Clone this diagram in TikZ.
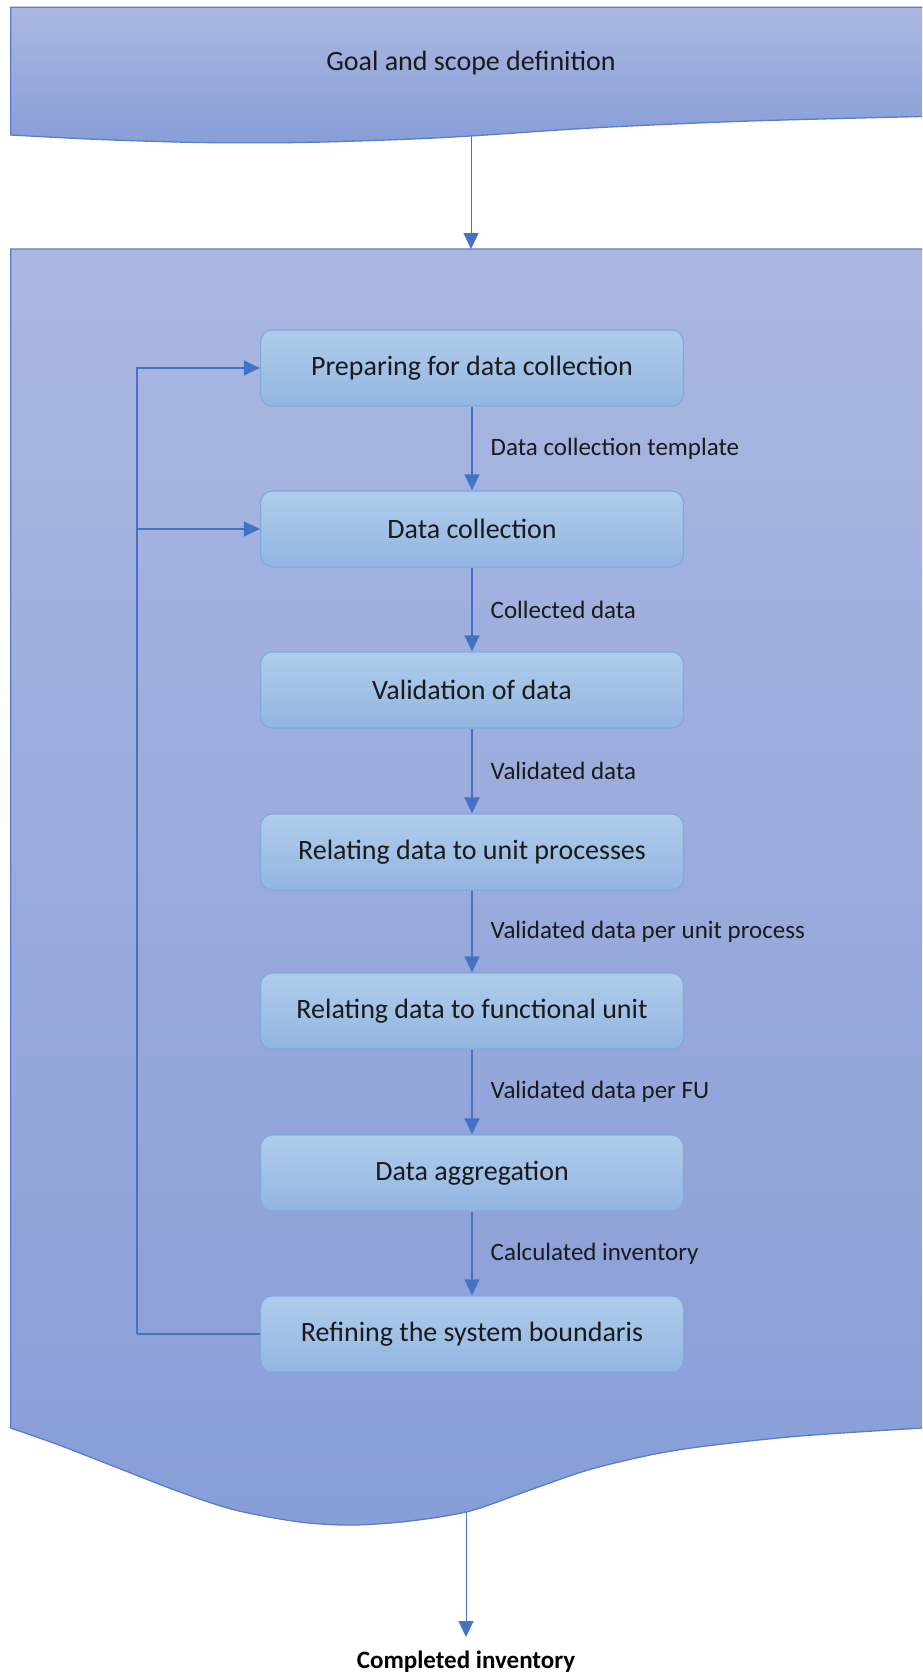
\documentclass[tikz,border=0pt]{standalone}
\usepackage{fontspec}
\setmainfont{Carlito}
\usetikzlibrary{arrows.meta}
\definecolor{bandtop}{HTML}{AAB7E1}
\definecolor{bandbot}{HTML}{889ED8}
\definecolor{bandline}{HTML}{5B7DC6}
\definecolor{boxtop}{HTML}{B0CCEB}
\definecolor{boxbot}{HTML}{92B6E2}
\definecolor{boxline}{HTML}{7DAAE0}
\definecolor{conn}{HTML}{4472C4}
\definecolor{txt}{HTML}{1A1A1A}
\begin{document}
\begin{tikzpicture}[x=1pt,y=-1pt,
  procbox/.style={rectangle, rounded corners=12pt, minimum width=423pt, minimum height=76pt,
    top color=boxtop, bottom color=boxbot, draw=boxline, line width=1.2pt, text=txt,
    font=\fontsize{28}{32}\selectfont, inner sep=0pt},
  lbl/.style={text=txt, font=\fontsize{25}{30}\selectfont, inner sep=0pt, anchor=west, xshift=18pt},
  arr/.style={draw=conn, line width=1.4pt, -{Triangle[length=16pt,width=15pt]}},
  loopline/.style={draw=conn, line width=1.4pt},
  thinarr/.style={draw=conn!85!gray, line width=1pt, -{Triangle[length=16pt,width=15pt,fill=conn]}},
  band/.style={top color=bandtop, bottom color=bandbot, draw=bandline, line width=1.3pt},
]
\useasboundingbox (0,0) rectangle (922,1679);
\clip (0,0) rectangle (922,1679);
\fill[white] (0,0) rectangle (922,1679);

% top banner
\path[band] (10.7,7.3) -- (940,7.3) -- (940,116)
  -- plot[smooth] coordinates {(922,116.5) (750,121) (600,127.5) (470,136) (400,139.5) (300,142.5) (200,142.5) (100,139.5) (10.7,135)}
  -- cycle;
\node[text=txt, font=\fontsize{28}{32}\selectfont] (goal) at (471,63) {Goal and scope definition};

% big container
\path[band] (10.7,249) -- (940,249) -- (940,1427)
  -- plot[smooth] coordinates {(922,1428) (800,1436) (706,1446) (650,1455) (588,1470) (530,1490) (470,1511) (410,1521) (353,1525) (300,1522) (235,1510) (180,1492) (118,1468) (59,1445) (10.7,1428)}
  -- cycle;

\coordinate (gb) at (471,136);
\coordinate (bt) at (471,249);
\draw[thinarr] (gb) -- (bt);

% process boxes
\node[procbox] (b1) at (472,368) {Preparing for data collection};
\node[procbox] (b2) at (472,529) {Data collection};
\node[procbox] (b3) at (472,690) {Validation of data};
\node[procbox] (b4) at (472,852) {Relating data to unit processes};
\node[procbox] (b5) at (472,1011) {Relating data to functional unit};
\node[procbox] (b6) at (472,1173) {Data aggregation};
\node[procbox] (b7) at (472,1334) {Refining the system boundaris};

\draw[arr] (b1) -- node[lbl, midway] {Data collection template} (b2);
\draw[arr] (b2) -- node[lbl, midway] {Collected data} (b3);
\draw[arr] (b3) -- node[lbl, midway] {Validated data} (b4);
\draw[arr] (b4) -- node[lbl, midway] {Validated data per unit process} (b5);
\draw[arr] (b5) -- node[lbl, midway] {Validated data per FU} (b6);
\draw[arr] (b6) -- node[lbl, midway] {Calculated inventory} (b7);

% feedback loop
\coordinate (lp) at (137,1334);
\coordinate (lq) at (137,529);
\draw[loopline] (b7.west) -- (lp);
\draw[arr] (lp) |- (b1.west);
\draw[arr] (lq) -- (b2.west);

% output
\coordinate (wb) at (466,1512);
\coordinate (citip) at (466,1637);
\node[text=black, font=\bfseries\fontsize{25}{30}\selectfont, inner sep=0pt] (ci) at (466,1662) {Completed inventory};
\draw[thinarr] (wb) -- (citip);
\end{tikzpicture}
\end{document}
